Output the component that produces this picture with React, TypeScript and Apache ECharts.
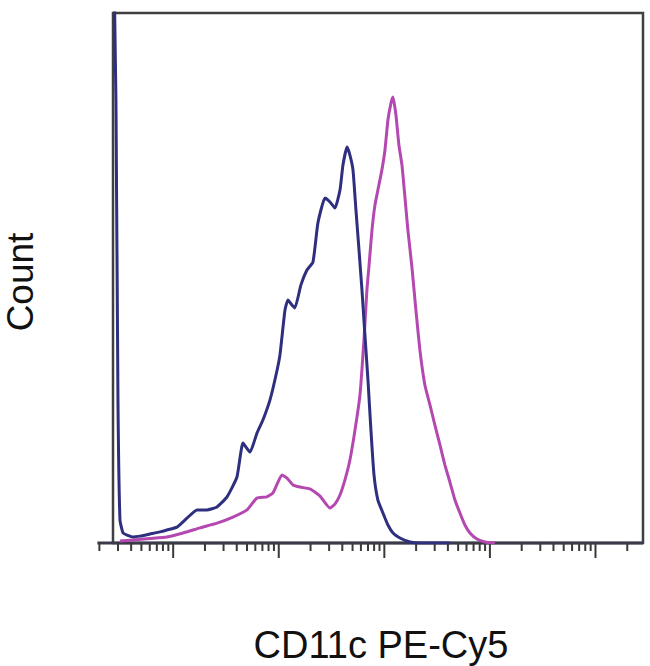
import React, { useEffect, useRef } from "react";
import * as echarts from "echarts";

// x values are log10 of fluorescence intensity (display decades); y values are counts
const blueX = [0.43, 0.458, 0.477, 0.496, 0.525, 0.563, 0.619, 0.686, 0.78, 0.875, 0.941, 1.036, 1.131, 1.225, 1.32, 1.415, 1.51, 1.604, 1.661, 1.727, 1.794, 1.85, 1.917, 1.974, 2.011, 2.059, 2.087, 2.125, 2.153, 2.21, 2.267, 2.324, 2.371, 2.438, 2.485, 2.532, 2.58, 2.608, 2.646, 2.674, 2.703, 2.731, 2.76, 2.788, 2.816, 2.845, 2.873, 2.902, 2.939, 2.987, 3.034, 3.082, 3.148, 3.243, 3.337, 3.621];
const blueY = [240, 167, 54, 8.7, 3.8, 3.0, 2.3, 2.6, 3.4, 4.2, 4.9, 6.0, 9.4, 12.5, 12.5, 13.6, 17.4, 24.9, 37.7, 34.3, 41.5, 46.4, 54.0, 63.4, 70.9, 87.9, 91.7, 89.8, 88.7, 97.4, 103.0, 106.0, 120.8, 130.2, 128.7, 126.4, 133.2, 142.6, 149.4, 146.4, 140.8, 125.7, 110.6, 95.5, 78.5, 61.5, 42.6, 25.7, 16.2, 11.3, 6.8, 3.8, 1.9, 0.4, 0, 0];

const magentaX = [0.496, 0.619, 0.78, 0.941, 1.093, 1.254, 1.415, 1.566, 1.699, 1.794, 1.888, 1.945, 1.993, 2.03, 2.078, 2.135, 2.201, 2.296, 2.391, 2.485, 2.532, 2.58, 2.627, 2.674, 2.722, 2.769, 2.807, 2.835, 2.854, 2.883, 2.911, 2.939, 2.977, 3.006, 3.034, 3.063, 3.082, 3.11, 3.138, 3.167, 3.195, 3.223, 3.261, 3.299, 3.337, 3.384, 3.432, 3.479, 3.527, 3.574, 3.621, 3.669, 3.716, 3.763, 3.811, 3.877, 3.953, 4.047];
const magentaY = [0.8, 1.1, 1.7, 2.3, 3.8, 5.7, 7.5, 9.8, 12.5, 17.0, 17.4, 18.9, 23.0, 25.7, 24.5, 21.9, 21.1, 20.4, 17.7, 13.2, 14.7, 18.1, 23.8, 31.3, 42.6, 55.8, 76.6, 95.5, 104.2, 118.1, 127.5, 133.2, 140.8, 148.3, 159.6, 166.0, 168.3, 161.5, 150.2, 142.6, 130.6, 118.1, 104.2, 87.9, 72.8, 59.6, 52.1, 44.5, 37.0, 29.4, 23.0, 16.2, 11.3, 6.8, 3.8, 1.5, 0.4, 0];

// axis tick positions (intensity values) for the log display
const tickDecades = [1, 10, 100, 1000, 10000, 100000];
const tickMultipliers = [1, 2, 3, 4, 5, 6, 7, 8, 9];
const majorTickValues = [10, 100, 1000, 10000, 100000];
const axisStart = 2;

const xMin = 0.43;
const xMax = 5.45;
const yMin = 0;
const yMax = 200;

const xLabel = "CD11c PE-Cy5";
const yLabel = "Count";

export default function App() {
  const ref = useRef<HTMLDivElement>(null);

  useEffect(() => {
    document.body.style.margin = "0";
    if (!ref.current) return;
    const chart = echarts.init(ref.current, undefined, { renderer: "svg" });

    const ticks: { v: number; major: boolean }[] = [];
    tickDecades.forEach((d) => {
      tickMultipliers.forEach((m) => {
        const v = d * m;
        if (v >= axisStart && Math.log10(v) <= xMax) {
          ticks.push({ v: Math.log10(v), major: majorTickValues.includes(v) });
        }
      });
    });

    const blueData = blueX.map((x, i) => [x, blueY[i]]);
    const magentaData = magentaX.map((x, i) => [x, magentaY[i]]);

    chart.setOption({
      animation: false,
      backgroundColor: "#ffffff",
      grid: {
        left: 113,
        right: 7,
        top: 13,
        bottom: 123,
        show: true,
        borderColor: "#404040",
        borderWidth: 2.5,
        backgroundColor: "transparent",
      },
      xAxis: {
        type: "value",
        min: xMin,
        max: xMax,
        axisLine: { show: false },
        axisTick: { show: false },
        axisLabel: { show: false },
        splitLine: { show: false },
      },
      yAxis: {
        type: "value",
        min: yMin,
        max: yMax,
        axisLine: { show: false },
        axisTick: { show: false },
        axisLabel: { show: false },
        splitLine: { show: false },
      },
      graphic: [
        {
          type: "text",
          x: 20,
          y: 282,
          rotation: Math.PI / 2,
          style: {
            text: yLabel,
            x: 0,
            y: 0,
            align: "center",
            verticalAlign: "middle",
            fontSize: 37,
            fontFamily: "Liberation Sans, Arial, sans-serif",
            fill: "#111111",
          },
        },
        {
          type: "text",
          x: 381,
          y: 645,
          style: {
            text: xLabel,
            x: 0,
            y: 0,
            align: "center",
            verticalAlign: "middle",
            fontSize: 38,
            fontFamily: "Liberation Sans, Arial, sans-serif",
            fill: "#111111",
          },
        },
      ],
      series: [
        {
          type: "custom",
          clip: false,
          silent: true,
          z: 1,
          data: [[xMin, 0]],
          renderItem: (params: any, api: any) => {
            const children: any[] = [];
            const start = api.coord([Math.log10(axisStart), 0]);
            const end = api.coord([xMax, 0]);
            children.push({
              type: "line",
              shape: { x1: start[0] - 2, y1: start[1], x2: end[0], y2: end[1] },
              style: { stroke: "#3a3a4a", lineWidth: 3 },
            });
            ticks.forEach((t) => {
              const p = api.coord([t.v, 0]);
              children.push({
                type: "line",
                shape: { x1: p[0], y1: p[1], x2: p[0], y2: p[1] + (t.major ? 15 : 8) },
                style: { stroke: "#3a3a3a", lineWidth: 2 },
              });
            });
            return { type: "group", children };
          },
        },
        {
          type: "line",
          data: magentaData,
          showSymbol: false,
          smooth: 0.15,
          z: 3,
          lineStyle: { color: "#b448b0", width: 3 },
        },
        {
          type: "line",
          data: blueData,
          showSymbol: false,
          smooth: 0.15,
          z: 4,
          lineStyle: { color: "#2e2f7e", width: 3 },
        },
      ],
    });

    return () => chart.dispose();
  }, []);

  return <div ref={ref} style={{ width: 650, height: 666 }} />;
}
